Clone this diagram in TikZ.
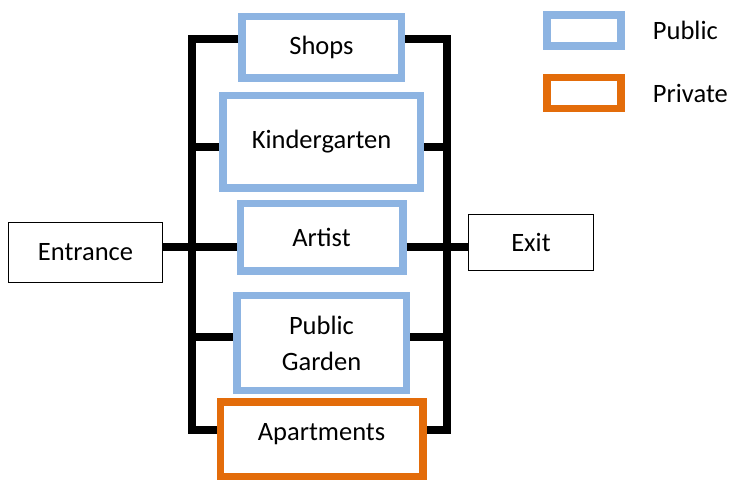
\documentclass[tikz,border=0pt]{standalone}
\usepackage{fontspec}
\setmainfont{Carlito}
\usetikzlibrary{positioning}
\definecolor{AzulPublico}{RGB}{141,180,226}
\definecolor{NaranjaPrivado}{RGB}{227,108,10}

\begin{document}
\begin{tikzpicture}[
  x=1pt, y=-1pt,
  font=\fontsize{26.5}{36}\selectfont,
  publica/.style={draw=AzulPublico, line width=7.5pt, fill=white, align=center, inner sep=0pt},
  privada/.style={draw=NaranjaPrivado, line width=7.5pt, fill=white, align=center, inner sep=0pt},
  puerta/.style={draw=black, line width=1pt, fill=white, inner sep=0pt},
  barra/.style={line width=8pt, black},
]
\useasboundingbox (0,0) rectangle (729,481);

% --- Columna central ---
\node[publica, minimum width=159.5pt, minimum height=61.5pt] (shops) at (321.5,47.5) {Shops};
\node[publica, minimum width=197.5pt, minimum height=92.5pt, below=10pt of shops] (kinder) {Kindergarten};
\node[publica, minimum width=162.5pt, minimum height=67.5pt, below=8pt of kinder] (artist) {Artist};
\node[publica, minimum width=169.5pt, minimum height=94.5pt, below=17pt of artist] (garden) {Public\\Garden};
\node[privada, minimum width=202.5pt, minimum height=74.5pt, text depth=14pt, below=4pt of garden] (apt) {Apartments};

% --- Entrada y salida ---
\node[puerta, minimum width=154pt, minimum height=60pt] (entrance) at (85.5,252.5) {Entrance};
\node[puerta, minimum width=125pt, minimum height=56pt] (exit) at (531,242.5) {Exit};

% --- Leyenda ---
\node[publica, minimum width=74pt, minimum height=31pt] (leypub) at (584,30.5) {};
\node[privada, minimum width=74pt, minimum height=31pt, below=24pt of leypub] (leypriv) {};
\node[right=28pt of leypub, inner sep=0pt] (txtpub) {Public};
\node[right=28pt of leypriv, inner sep=0pt] (txtpriv) {Private};

% --- Barras de union ---
\coordinate (izq) at (192,0);
\coordinate (der) at (447,0);
\draw[barra] ([yshift=8.5pt]shops.west) -| ([yshift=9pt]apt.west -| izq) -- ([yshift=9pt]apt.west);
\draw[barra] ([yshift=8.5pt]shops.east) -| ([yshift=9pt]apt.east -| der) -- ([yshift=9pt]apt.east);
\draw[barra] ([yshift=-5pt]kinder.west) -- ([yshift=-5pt]kinder.west -| izq);
\draw[barra] ([yshift=-5pt]kinder.east) -- ([yshift=-5pt]kinder.east -| der);
\draw[barra] ([yshift=6pt]garden.west) -- ([yshift=6pt]garden.west -| izq);
\draw[barra] ([yshift=6pt]garden.east) -- ([yshift=6pt]garden.east -| der);
\draw[barra] ([yshift=-9.5pt]artist.west) -- ([yshift=-9.5pt]artist.west -| entrance.east);
\draw[barra] ([yshift=-9.5pt]artist.east) -- ([yshift=-9.5pt]artist.east -| exit.west);

\end{tikzpicture}
\end{document}
